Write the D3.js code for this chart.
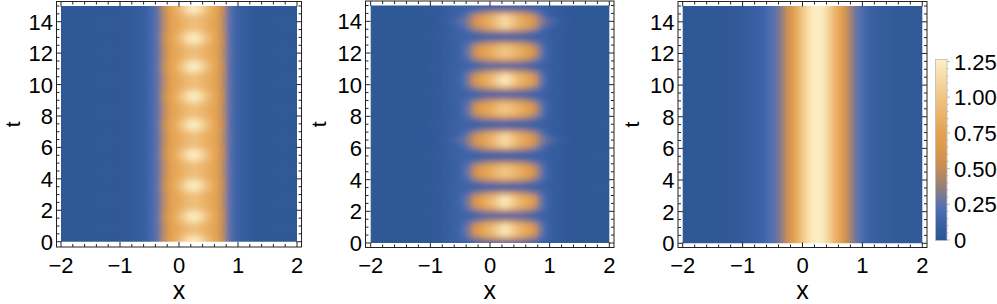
<!DOCTYPE html>
<html>
<head>
<meta charset="utf-8">
<script src="https://cdn.jsdelivr.net/npm/d3@7"></script>
<style>
  body { margin: 0; background: #fff; }
  text { font-family: "Liberation Sans", Arial, sans-serif; fill: #000; }
</style>
</head>
<body>
<script>
// colour map (value -> colour)
var colorStops = [0, 0.125, 0.2, 0.28, 0.375, 0.5, 0.625, 0.75, 0.875, 1.0, 1.125, 1.25];
var colorValues = ['#2b5591', '#3b62a6', '#4b6cb2', '#6b76a0', '#968076', '#c48d57',
  '#dd974a', '#e5a250', '#ebb46a', '#f1c686', '#f7dba6', '#fdf0c6'];
var barTicks = [0, 0.25, 0.5, 0.75, 1.0, 1.25];

var xMajor = [-2, -1, 0, 1, 2];
var tMajor = [0, 2, 4, 6, 8, 10, 12, 14];

// |psi|^2 profiles across x, one value per 0.1-wide column (x = -2 .. 2)
var p1Trough = [0.03, 0.03, 0.03, 0.03, 0.03, 0.03, 0.03, 0.03, 0.03, 0.03,
  0.04, 0.05, 0.06, 0.08, 0.12, 0.18, 0.26, 0.47, 0.70, 0.78,
  0.85, 0.92, 0.95, 0.92, 0.85, 0.80, 0.70, 0.46, 0.24, 0.15,
  0.09, 0.06, 0.05, 0.04, 0.03, 0.03, 0.03, 0.03, 0.03, 0.03];
var p1Peak = [0.03, 0.03, 0.03, 0.03, 0.03, 0.03, 0.03, 0.03, 0.03, 0.03,
  0.04, 0.05, 0.06, 0.08, 0.12, 0.19, 0.28, 0.52, 0.74, 0.85,
  1.00, 1.16, 1.24, 1.16, 1.00, 0.85, 0.74, 0.50, 0.24, 0.15,
  0.09, 0.06, 0.05, 0.04, 0.03, 0.03, 0.03, 0.03, 0.03, 0.03];
var p1PeakT = [0, 1.59, 3.56, 5.52, 7.43, 9.23, 11.14, 12.95, 14.85];

var p2Base = [0.03, 0.03, 0.03, 0.03, 0.03, 0.03, 0.03, 0.03, 0.03, 0.03,
  0.04, 0.05, 0.07, 0.09, 0.11, 0.12, 0.12, 0.12, 0.12, 0.12,
  0.12, 0.12, 0.12, 0.12, 0.12, 0.12, 0.12, 0.12, 0.12, 0.10,
  0.08, 0.06, 0.05, 0.04, 0.03, 0.03, 0.03, 0.03, 0.03, 0.03];
var p2Edge = [0.03, 0.03, 0.03, 0.03, 0.03, 0.03, 0.03, 0.03, 0.03, 0.03,
  0.04, 0.05, 0.07, 0.09, 0.12, 0.16, 0.22, 0.30, 0.40, 0.50,
  0.55, 0.60, 0.65, 0.60, 0.55, 0.50, 0.40, 0.30, 0.20, 0.13,
  0.08, 0.06, 0.05, 0.04, 0.03, 0.03, 0.03, 0.03, 0.03, 0.03];
var p2Bright = [0.03, 0.03, 0.03, 0.03, 0.03, 0.03, 0.03, 0.03, 0.03, 0.03,
  0.04, 0.05, 0.07, 0.09, 0.13, 0.20, 0.35, 0.60, 0.75, 0.85,
  0.95, 1.10, 1.20, 1.10, 0.95, 0.85, 0.78, 0.60, 0.30, 0.15,
  0.08, 0.06, 0.05, 0.04, 0.03, 0.03, 0.03, 0.03, 0.03, 0.03];
var p2Dim = [0.03, 0.03, 0.03, 0.03, 0.03, 0.03, 0.03, 0.03, 0.03, 0.03,
  0.04, 0.05, 0.07, 0.09, 0.12, 0.18, 0.30, 0.55, 0.70, 0.78,
  0.85, 0.95, 1.00, 0.95, 0.88, 0.80, 0.72, 0.55, 0.30, 0.15,
  0.08, 0.06, 0.05, 0.04, 0.03, 0.03, 0.03, 0.03, 0.03, 0.03];
var p2Tail = [0.03, 0.03, 0.03, 0.03, 0.03, 0.03, 0.03, 0.03, 0.03, 0.04,
  0.05, 0.08, 0.12, 0.18, 0.25, 0.32, 0.40, 0.50, 0.60, 0.70,
  0.80, 0.90, 0.95, 0.90, 0.80, 0.70, 0.60, 0.50, 0.45, 0.35,
  0.25, 0.15, 0.08, 0.05, 0.03, 0.03, 0.03, 0.03, 0.03, 0.03];
var p2BlobT = [0.82, 2.61, 4.5, 6.5, 8.46, 10.3, 12.08, 13.98];
var p2BlobKind = ['bright', 'bright', 'dim', 'bright', 'dim', 'bright', 'dim', 'bright'];
var p2TailT = [6.5, 13.98];

var p3Profile = [0.03, 0.03, 0.03, 0.03, 0.03, 0.03, 0.03, 0.04, 0.04, 0.05,
  0.07, 0.10, 0.12, 0.14, 0.20, 0.25, 0.35, 0.55, 0.72, 0.90,
  1.08, 1.20, 1.25, 1.20, 1.05, 0.85, 0.72, 0.50, 0.32, 0.22,
  0.15, 0.10, 0.08, 0.06, 0.05, 0.04, 0.04, 0.03, 0.03, 0.03];

var W = 997, H = 304;
var svg = d3.select('body').append('svg').attr('width', W).attr('height', H);
var defs = svg.append('defs');

var color = d3.scaleLinear().domain(colorStops).range(colorValues)
  .interpolate(d3.interpolateRgb).clamp(true);

var xEdges = d3.range(0, 41).map(function(i) { return -2 + i * 0.1; });

var panels = [
  { id: 'p1', xRange: [61, 297], tRange: [241.7, 6], frame: [56.5, 1.5, 301.5, 247], tLabelX: 19.5,
    layers: [{ t0: -1, t1: 16, v: p1Trough }].concat(p1PeakT.map(function(t) {
      return { t0: t - 0.35, t1: t + 0.35, v: p1Peak };
    })) },
  { id: 'p2', xRange: [370.7, 609.3], tRange: [243, 5.5], frame: [365.5, 1, 614, 247.5], tLabelX: 325.5,
    layers: [{ t0: -1, t1: 16, v: p2Base }]
      .concat(p2BlobT.map(function(t) { return { t0: t - 0.65, t1: t + 0.65, v: p2Edge }; }))
      .concat(p2BlobT.map(function(t, i) {
        return { t0: t - 0.42, t1: t + 0.42, v: p2BlobKind[i] == 'bright' ? p2Bright : p2Dim };
      }))
      .concat(p2TailT.map(function(t) { return { t0: t - 0.1, t1: t + 0.1, v: p2Tail }; })) },
  { id: 'p3', xRange: [682.7, 922.3], tRange: [243.3, 6], frame: [678, 1.5, 927, 247.5], tLabelX: 638.5,
    layers: [{ t0: -1, t1: 16, v: p3Profile }] }
];

panels.forEach(function(p) {
  var x = d3.scaleLinear().domain([-2, 2]).range(p.xRange);
  var y = d3.scaleLinear().domain([0, 15]).range(p.tRange);
  var g = svg.append('g').attr('class', 'panel ' + p.id);

  defs.append('clipPath').attr('id', 'clip-' + p.id)
    .append('rect')
    .attr('x', x(-2)).attr('y', y(15))
    .attr('width', x(2) - x(-2)).attr('height', y(0) - y(15));

  var filter = defs.append('filter').attr('id', 'blur-' + p.id)
    .attr('filterUnits', 'userSpaceOnUse')
    .attr('x', x(-2) - 40).attr('y', y(15) - 40)
    .attr('width', x(2) - x(-2) + 80).attr('height', y(0) - y(15) + 80);
  filter.append('feGaussianBlur').attr('stdDeviation', '2.6 3');

  var field = g.append('g').attr('clip-path', 'url(#clip-' + p.id + ')')
    .append('g').attr('filter', 'url(#blur-' + p.id + ')');

  p.layers.forEach(function(layer) {
    field.append('g').selectAll('rect')
      .data(layer.v)
      .enter().append('rect')
      .attr('x', function(d, i) { return x(i == 0 ? -2.5 : xEdges[i]); })
      .attr('width', function(d, i) {
        return x(i == 39 ? 2.5 : xEdges[i + 1]) - x(i == 0 ? -2.5 : xEdges[i]) + 0.5;
      })
      .attr('y', y(layer.t1))
      .attr('height', y(layer.t0) - y(layer.t1))
      .attr('fill', function(d) { return color(d); });
  });

  // frame
  var f = p.frame;
  g.append('rect')
    .attr('x', f[0]).attr('y', f[1])
    .attr('width', f[2] - f[0]).attr('height', f[3] - f[1])
    .attr('fill', 'none').attr('stroke', '#222').attr('stroke-width', 1);

  var xMinor = d3.range(-2, 2.001, 0.2);
  var tMinor = d3.range(0, 15.001, 0.5);
  var ticks = g.append('g').attr('stroke', '#222').attr('stroke-width', 1);

  function tickLen(list, v, big, small) {
    return list.some(function(m) { return Math.abs(m - v) < 1e-6; }) ? big : small;
  }

  xMinor.forEach(function(v) {
    var len = tickLen(xMajor, v, 5, 3);
    ticks.append('line').attr('x1', x(v)).attr('x2', x(v)).attr('y1', f[3]).attr('y2', f[3] - len);
    ticks.append('line').attr('x1', x(v)).attr('x2', x(v)).attr('y1', f[1]).attr('y2', f[1] + len);
  });
  tMinor.forEach(function(v) {
    var len = tickLen(tMajor, v, 5, 3);
    ticks.append('line').attr('y1', y(v)).attr('y2', y(v)).attr('x1', f[0]).attr('x2', f[0] + len);
    ticks.append('line').attr('y1', y(v)).attr('y2', y(v)).attr('x1', f[2]).attr('x2', f[2] - len);
  });

  var fmt = d3.format('d');
  g.append('g').selectAll('text')
    .data(xMajor)
    .enter().append('text')
    .attr('x', function(d) { return x(d); })
    .attr('y', 273)
    .attr('text-anchor', 'middle')
    .style('font-size', '22px')
    .text(function(d) { return fmt(d); });

  g.append('g').selectAll('text')
    .data(tMajor)
    .enter().append('text')
    .attr('x', f[0] - 3.5)
    .attr('y', function(d) { return y(d) + 8; })
    .attr('text-anchor', 'end')
    .style('font-size', '22px')
    .text(function(d) { return fmt(d); });

  g.append('text')
    .attr('x', (f[0] + f[2]) / 2).attr('y', 299)
    .attr('text-anchor', 'middle')
    .style('font-size', '25px')
    .text('x');

  g.append('text')
    .attr('transform', 'translate(' + p.tLabelX + ',' + ((f[1] + f[3]) / 2) + ') rotate(-90)')
    .attr('text-anchor', 'middle')
    .style('font-size', '21px')
    .text('t');
});

// colour bar legend
var bar = d3.scaleLinear().domain([0, 1.25]).range([240, 61.5]);
var grad = defs.append('linearGradient').attr('id', 'bar-grad')
  .attr('x1', 0).attr('y1', 1).attr('x2', 0).attr('y2', 0);
colorStops.forEach(function(s, i) {
  grad.append('stop').attr('offset', s / 1.25).attr('stop-color', colorValues[i]);
});

var legend = svg.append('g').attr('class', 'legend');
legend.append('rect')
  .attr('x', 935.5).attr('y', bar(1.25) - 2)
  .attr('width', 11.5).attr('height', bar(0) - bar(1.25) + 2.5)
  .attr('fill', 'url(#bar-grad)')
  .attr('stroke', '#bbb').attr('stroke-width', 0.8);

legend.append('g').selectAll('line')
  .data(d3.range(0, 1.2501, 0.05))
  .enter().append('line')
  .attr('x1', 947).attr('x2', function(d) {
    return barTicks.some(function(m) { return Math.abs(m - d) < 1e-6; }) ? 950 : 948.5;
  })
  .attr('y1', function(d) { return bar(d); })
  .attr('y2', function(d) { return bar(d); })
  .attr('stroke', '#aaa').attr('stroke-width', 0.8);

legend.append('g').selectAll('text')
  .data(barTicks)
  .enter().append('text')
  .attr('x', 954)
  .attr('y', function(d) { return bar(d) + 8; })
  .style('font-size', '22px')
  .text(function(d) { return d == 0 ? '0' : d3.format('.2f')(d); });
</script>
</body>
</html>
